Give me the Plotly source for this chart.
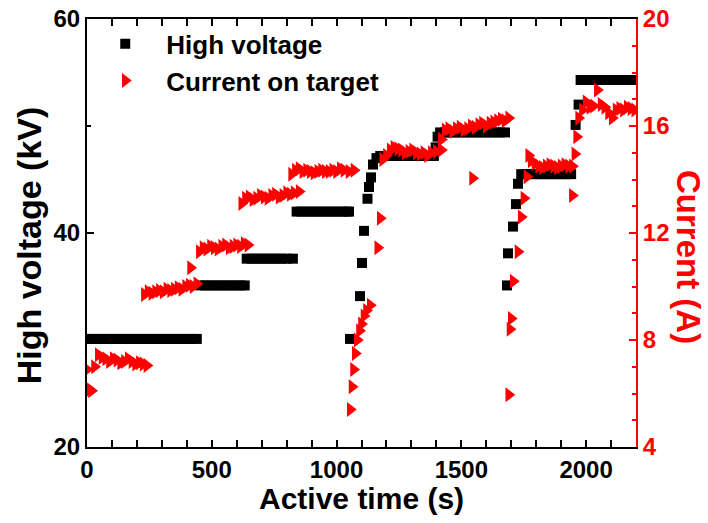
import plotly.graph_objects as go

# ---------------- data ----------------
# High voltage (kV) vs active time (s)
hv_time = [
    0, 20, 40, 60, 80, 100, 120, 140, 160, 180, 200, 220, 240, 260, 280, 300, 320, 340, 360, 380, 400, 420, 440,
    455, 475, 495, 515, 535, 555, 575, 595, 615, 632,
    640, 660, 680, 700, 720, 740, 760, 780, 800, 825,
    840, 860, 880, 900, 920, 940, 960, 980, 1000, 1020, 1040, 1050,
    1054, 1094, 1102, 1110, 1124, 1130, 1138, 1146, 1160,
    1175, 1195, 1215, 1235, 1255, 1275, 1295, 1315, 1335, 1355, 1375, 1390,
    1397, 1405,
    1415, 1435, 1455, 1475, 1495, 1515, 1535, 1555, 1575, 1595, 1615, 1635, 1655, 1675,
    1683, 1687, 1707, 1719, 1727,
    1740, 1760, 1780, 1800, 1820, 1840, 1860, 1880, 1900, 1920, 1940,
    1958, 1970,
    1978, 1995, 2015, 2035, 2055, 2075, 2095, 2115, 2135, 2155, 2175, 2195,
]
hv_kv = [
    30.1, 30.1, 30.1, 30.1, 30.1, 30.1, 30.1, 30.1, 30.1, 30.1, 30.1, 30.1, 30.1, 30.1, 30.1, 30.1, 30.1, 30.1, 30.1, 30.1, 30.1, 30.1, 30.1,
    35.1, 35.1, 35.1, 35.1, 35.1, 35.1, 35.1, 35.1, 35.1, 35.1,
    37.6, 37.6, 37.6, 37.6, 37.6, 37.6, 37.6, 37.6, 37.6, 37.6,
    42.0, 42.0, 42.0, 42.0, 42.0, 42.0, 42.0, 42.0, 42.0, 42.0, 42.0, 42.0,
    30.1, 34.1, 37.2, 40.2, 43.2, 44.3, 45.2, 46.4, 47.0,
    47.2, 47.2, 47.2, 47.2, 47.2, 47.2, 47.2, 47.2, 47.2, 47.2, 47.2, 47.2,
    48.0, 49.0,
    49.4, 49.4, 49.4, 49.4, 49.4, 49.4, 49.4, 49.4, 49.4, 49.4, 49.4, 49.4, 49.4, 49.4,
    35.1, 38.1, 40.6, 42.7, 44.6,
    45.5, 45.5, 45.5, 45.5, 45.5, 45.5, 45.5, 45.5, 45.5, 45.5, 45.5,
    50.1, 52.0,
    54.3, 54.3, 54.3, 54.3, 54.3, 54.3, 54.3, 54.3, 54.3, 54.3, 54.3, 54.3,
]

# Current on target (A) vs active time (s)
cur_time = [
    0, 3, 10, 18,
    30, 45, 60, 75, 90, 105, 120, 135, 150, 165, 180, 195, 210, 225, 240,
    230, 245, 260, 275, 290, 305, 320, 335, 350, 365, 380, 395, 410, 425, 440, 415,
    450, 465, 480, 495, 510, 525, 540, 555, 570, 585, 600, 615, 630, 645,
    620, 635, 650, 665, 680, 695, 710, 725, 740, 755, 770, 785, 800, 815, 830, 850,
    820, 835, 850, 865, 880, 895, 910, 925, 940, 955, 970, 985, 1000, 1015, 1030, 1050, 1070,
    1055, 1062, 1068, 1075, 1083, 1092, 1100, 1110, 1120, 1135, 1165, 1175,
    1185, 1200, 1215, 1230, 1245, 1260, 1275, 1290, 1305, 1320, 1335, 1350, 1365, 1380, 1400, 1420,
    1420, 1435, 1450, 1465, 1480, 1495, 1510, 1525, 1540, 1555, 1570, 1585, 1600, 1615, 1630, 1645, 1660, 1675, 1690,
    1545,
    1690, 1695, 1700, 1708, 1727, 1740, 1751, 1763, 1770,
    1780, 1795, 1810, 1825, 1840, 1855, 1870, 1885, 1900, 1915, 1930, 1945,
    1945, 1955, 1962,
    1970, 1985, 2000, 2015, 2030, 2045, 2060, 2075, 2090, 2105, 2120, 2135, 2150, 2165, 2180, 2195,
]
cur_amp = [
    6.9, 6.1, 6.15, 6.1,
    7.0, 7.45, 7.35, 7.3, 7.2, 7.3, 7.25, 7.15, 7.2, 7.3, 7.2, 7.1, 7.15, 7.1, 7.05,
    9.7, 9.8, 9.75, 9.8, 9.85, 9.8, 9.9, 9.85, 9.9, 9.95, 9.9, 10.0, 10.05, 10.0, 10.1, 10.7,
    11.3, 11.45, 11.4, 11.5, 11.45, 11.4, 11.5, 11.55, 11.45, 11.5, 11.55, 11.5, 11.6, 11.55,
    13.1, 13.3, 13.35, 13.25, 13.3, 13.4, 13.35, 13.3, 13.4, 13.45, 13.35, 13.4, 13.5, 13.45, 13.5, 13.55,
    14.2, 14.35, 14.4, 14.3, 14.35, 14.3, 14.25, 14.3, 14.35, 14.3, 14.3, 14.35, 14.3, 14.4, 14.35, 14.3, 14.35,
    5.4, 6.25, 6.9, 7.5, 8.0, 8.35, 8.6, 8.9, 9.1, 9.3, 11.45, 12.55,
    14.75, 14.9, 15.1, 15.2, 15.15, 15.1, 15.0, 15.05, 15.1, 15.0, 14.95, 15.0, 14.9, 15.0, 15.05, 15.1,
    15.5, 15.85, 15.9, 15.8, 15.9, 15.95, 15.85, 15.9, 16.0, 15.95, 16.05, 16.1, 16.0, 16.1, 16.15, 16.2, 16.25, 16.2, 16.3,
    14.05,
    5.95, 8.4, 8.8, 10.2, 11.3, 12.6, 13.3, 14.1, 14.9,
    14.7, 14.6, 14.5, 14.45, 14.5, 14.55, 14.5, 14.45, 14.5, 14.55, 14.5, 14.5,
    13.4, 14.95, 15.6,
    16.3, 16.6, 16.9, 16.7, 16.75, 17.35, 16.8, 16.7, 16.5, 16.3, 16.6, 16.65, 16.6, 16.7, 16.65, 16.6,
]

x_ticks = [0, 500, 1000, 1500, 2000]
hv_ticks = [20, 40, 60]
cur_ticks = [4, 8, 12, 16, 20]

FONT = "Liberation Sans, Arial, sans-serif"
RED = "#ff0000"

fig = go.Figure()
fig.add_trace(go.Scatter(
    x=hv_time, y=hv_kv, mode="markers", name="High voltage",
    marker=dict(symbol="square", size=10, color="black", line=dict(width=0)),
))
fig.add_trace(go.Scatter(
    x=cur_time, y=cur_amp, mode="markers", name="Current on target", yaxis="y2",
    marker=dict(symbol="triangle-right", size=13, color=RED, line=dict(width=0)),
))

tickfont = dict(family=FONT, size=24, color="black", weight="bold")

fig.update_layout(
    width=708, height=523,
    margin=dict(l=87, r=72, t=19, b=76, autoexpand=False),
    paper_bgcolor="white", plot_bgcolor="white",
    showlegend=True,
    legend=dict(x=-0.005, y=0.997, xanchor="left", yanchor="top",
                bgcolor="rgba(0,0,0,0)", borderwidth=0,
                font=dict(family=FONT, size=26, color="black", weight="bold"),
                tracegroupgap=0, itemwidth=72),
    xaxis=dict(range=[0, 2200], tickvals=x_ticks, ticks="inside", ticklen=7, tickwidth=2,
               tickcolor="black", showline=True, linecolor="black", linewidth=2,
               mirror="allticks", showgrid=False, zeroline=False, tickfont=tickfont,
               automargin=False, ticklabelstandoff=0,
               minor=dict(dtick=100, ticks="inside", ticklen=4, tickwidth=1.5, tickcolor="black", showgrid=False)),
    yaxis=dict(range=[20, 60], tickvals=hv_ticks, ticks="inside", ticklen=7, tickwidth=2,
               tickcolor="black", showline=True, linecolor="black", linewidth=2,
               showgrid=False, zeroline=False, tickfont=tickfont, automargin=False,
               minor=dict(dtick=10, ticks="inside", ticklen=4, tickwidth=1.5, tickcolor="black", showgrid=False)),
    yaxis2=dict(range=[4, 20], tickvals=cur_ticks, overlaying="y", side="right",
                ticks="inside", ticklen=7, tickwidth=2, tickcolor=RED,
                showline=True, linecolor=RED, linewidth=2, showgrid=False, zeroline=False,
                automargin=False,
                tickfont=dict(family=FONT, size=24, color=RED, weight="bold"),
                minor=dict(dtick=1, ticks="inside", ticklen=4, tickwidth=1.5, tickcolor=RED, showgrid=False)),
    annotations=[
        dict(text="Active time (s)", xref="paper", yref="paper", x=0.5, y=-0.12,
             xanchor="center", yanchor="middle", showarrow=False,
             font=dict(family=FONT, size=30, color="black", weight="bold")),
        dict(text="High voltage (kV)", xref="paper", yref="paper", x=-0.105, y=0.472,
             xanchor="center", yanchor="middle", showarrow=False, textangle=-90,
             font=dict(family=FONT, size=34, color="black", weight="bold")),
        dict(text="Current (A)", xref="paper", yref="paper", x=1.0947, y=0.444,
             xanchor="center", yanchor="middle", showarrow=False, textangle=90,
             font=dict(family=FONT, size=33, color=RED, weight="bold")),
    ],
)

fig.write_html("out.html")
